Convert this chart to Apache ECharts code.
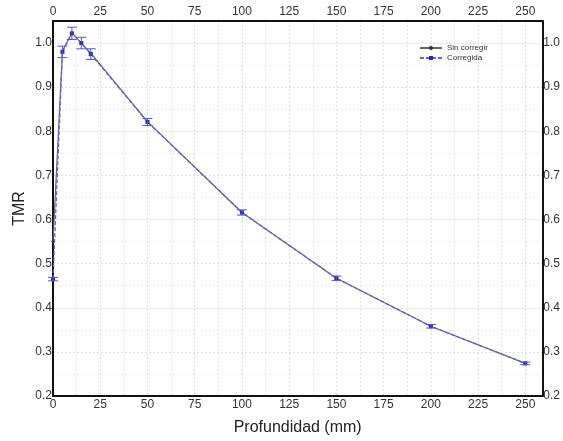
<!DOCTYPE html>
<html>
<head>
<meta charset="utf-8">
<script src="https://cdn.jsdelivr.net/npm/echarts@6/dist/echarts.min.js"></script>
<style>
  html, body { margin: 0; padding: 0; background: #fff; }
  #chart { width: 563px; height: 441px; }
</style>
</head>
<body>
<div id="chart"></div>
<script>
// profundidad (mm)
const depth = [0, 5, 10, 15, 20, 50, 100, 150, 200, 250]
// TMR sin corregir / corregida
const sinCorregir = [0.55, 0.982, 1.023, 1.0, 0.977, 0.822, 0.616, 0.467, 0.358, 0.274]
const corregida = [0.465, 0.98, 1.022, 1.0, 0.975, 0.821, 0.616, 0.467, 0.358, 0.274]
// incertidumbre
const errCorregida = [0.004, 0.013, 0.014, 0.013, 0.012, 0.008, 0.006, 0.005, 0.004, 0.003]

const font = 'Liberation Sans'
const chart = echarts.init(document.getElementById('chart'))

const xFmt = v => (v % 25 === 0 ? String(v) : '')
const yFmt = v => (Math.abs(Math.round(v * 10) - v * 10) < 1e-6 ? v.toFixed(1) : '')

const xBase = {
  type: 'value',
  min: 0,
  max: 259,
  interval: 25,
  axisLine: { show: true, onZero: false, lineStyle: { color: '#111', width: 2 } },
  axisTick: { show: false },
  axisLabel: { color: '#333', fontSize: 12, fontFamily: font, margin: 3, formatter: xFmt },
}
const yBase = {
  type: 'value',
  min: 0.2,
  max: 1.05,
  interval: 0.1,
  axisLine: { show: true, onZero: false, lineStyle: { color: '#111', width: 2 } },
  axisTick: { show: false },
  axisLabel: { color: '#333', fontSize: 12, fontFamily: font, margin: 1, formatter: yFmt },
}

let option = {
  animation: false,
  grid: { left: 53, right: 19, top: 21, bottom: 44 },
  legend: {
    top: 39,
    left: 414,
    orient: 'vertical',
    itemWidth: 22,
    itemHeight: 5,
    itemGap: 2,
    textStyle: { fontSize: 8, fontFamily: font, color: '#333' },
    data: ['Sin corregir', 'Corregida'],
  },
  xAxis: [
    Object.assign({}, xBase, {
      position: 'bottom',
      name: 'Profundidad (mm)',
      nameLocation: 'middle',
      nameGap: 24,
      nameTextStyle: { fontSize: 16, fontFamily: font, color: '#222' },
      splitLine: { show: true, lineStyle: { color: '#ddd', type: [2, 2] } },
      minorTick: { show: false, splitNumber: 2 },
      minorSplitLine: { show: true, lineStyle: { color: '#e6e6e6', type: [2, 2] } },
    }),
    Object.assign({}, xBase, { position: 'top', splitLine: { show: false } }),
  ],
  yAxis: [
    Object.assign({}, yBase, {
      position: 'left',
      name: 'TMR',
      nameLocation: 'middle',
      nameGap: 25,
      nameMoveOverlap: false,
      nameTextStyle: { fontSize: 16, fontFamily: font, color: '#222' },
      splitLine: { show: true, lineStyle: { color: '#ddd', type: [2, 2] } },
      minorTick: { show: false, splitNumber: 2 },
      minorSplitLine: { show: true, lineStyle: { color: '#ececec', type: [2, 2] } },
    }),
    Object.assign({}, yBase, { position: 'right', splitLine: { show: false } }),
  ],
  series: [
    {
      name: 'Sin corregir',
      type: 'line',
      data: depth.map((d, i) => [d, sinCorregir[i]]),
      symbol: 'circle',
      symbolSize: 3,
      itemStyle: { color: '#333' },
      lineStyle: { color: '#666', width: 1.2 },
      z: 2,
    },
    {
      name: 'Corregida',
      type: 'line',
      data: depth.map((d, i) => [d, corregida[i]]),
      symbol: 'rect',
      symbolSize: 4,
      itemStyle: { color: '#2a2a9a' },
      lineStyle: { color: '#6262c8', width: 1.3, type: [4, 2] },
      z: 3,
    },
    {
      name: 'err',
      type: 'custom',
      data: depth.map((d, i) => [d, corregida[i] - errCorregida[i], corregida[i] + errCorregida[i]]),
      renderItem: (params, api) => {
        const top = api.coord([api.value(0), api.value(2)])
        const bot = api.coord([api.value(0), api.value(1)])
        const w = 5
        const style = { stroke: '#5555cc', lineWidth: 1 }
        return {
          type: 'group',
          children: [
            { type: 'line', shape: { x1: top[0], y1: top[1], x2: bot[0], y2: bot[1] }, style },
            { type: 'line', shape: { x1: top[0] - w, y1: top[1], x2: top[0] + w, y2: top[1] }, style },
            { type: 'line', shape: { x1: bot[0] - w, y1: bot[1], x2: bot[0] + w, y2: bot[1] }, style },
          ],
        }
      },
      z: 4,
    },
  ],
}
chart.setOption(option)
</script>
</body>
</html>
